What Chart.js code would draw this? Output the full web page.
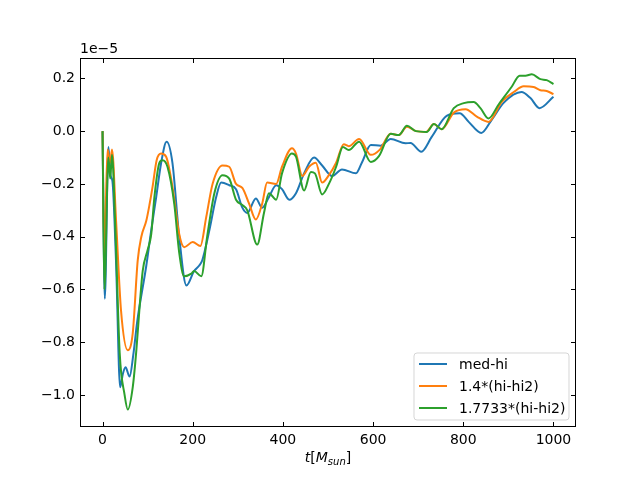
<!DOCTYPE html>
<html>
<head>
<meta charset="utf-8">
<script src="https://cdn.jsdelivr.net/npm/chart.js@4"></script>
<style>
  html, body { margin: 0; padding: 0; background: #fff; }
  canvas { display: block; }
</style>
</head>
<body>
<canvas id="chart" width="640" height="480"></canvas>
<script>
// values in units of 1e-5
const xTicks = [0, 200, 400, 600, 800, 1000];
const yTicks = [-1.0, -0.8, -0.6, -0.4, -0.2, 0.0, 0.2];

const blueT = [0, 5, 13, 18, 22, 30, 39, 45, 51, 60, 68, 77, 97, 108, 119, 130, 142, 155, 170, 186, 203, 214, 221, 237, 252, 263, 281, 296, 310, 321, 340, 354, 369, 385, 398, 414, 429, 447, 469, 487, 509, 531, 562, 575, 595, 617, 639, 672, 683, 707, 730, 763, 792, 812, 840, 862, 890, 929, 949, 969, 1000];
const blueY = [0, -0.635, -0.06, -0.17, -0.19, -0.5, -0.97, -0.92, -0.895, -0.93, -0.85, -0.72, -0.51, -0.375, -0.25, -0.12, -0.04, -0.12, -0.40, -0.585, -0.53, -0.51, -0.49, -0.375, -0.25, -0.195, -0.205, -0.22, -0.29, -0.31, -0.255, -0.29, -0.25, -0.205, -0.22, -0.26, -0.235, -0.16, -0.10, -0.13, -0.17, -0.145, -0.16, -0.12, -0.053, -0.055, -0.03, -0.046, -0.045, -0.078, -0.022, 0.058, 0.068, 0.035, -0.007, 0.04, 0.108, 0.148, 0.125, 0.087, 0.13];

const orangeT = [0, 4, 11, 17, 21, 30, 41, 56, 67, 78, 86, 97, 104, 111, 120, 130, 141, 155, 170, 181, 200, 217, 230, 244, 266, 281, 296, 310, 325, 340, 354, 365, 385, 398, 420, 429, 443, 458, 473, 487, 502, 518, 535, 546, 569, 595, 615, 639, 657, 675, 695, 717, 735, 752, 779, 805, 830, 856, 885, 912, 934, 956, 971, 985, 1000];
const orangeY = [0, -0.47, -0.07, -0.12, -0.07, -0.34, -0.68, -0.83, -0.765, -0.49, -0.40, -0.34, -0.28, -0.21, -0.11, -0.085, -0.097, -0.21, -0.39, -0.44, -0.42, -0.435, -0.325, -0.2, -0.13, -0.135, -0.2, -0.215, -0.275, -0.335, -0.275, -0.195, -0.2, -0.135, -0.065, -0.085, -0.17, -0.135, -0.12, -0.195, -0.167, -0.12, -0.05, -0.057, -0.03, -0.09, -0.07, -0.01, -0.015, 0.017, 0.0, -0.003, 0.027, 0.007, 0.07, 0.083, 0.055, 0.035, 0.11, 0.148, 0.17, 0.167, 0.155, 0.152, 0.14];

const greenT = [0, 4, 13, 17, 21, 28, 38, 49, 56, 67, 75, 82, 89, 100, 108, 115, 126, 133, 144, 159, 170, 181, 197, 203, 219, 232, 248, 266, 281, 296, 310, 321, 343, 358, 369, 385, 398, 420, 429, 447, 462, 471, 487, 502, 518, 533, 546, 569, 595, 613, 639, 657, 675, 695, 719, 735, 752, 779, 801, 823, 838, 856, 878, 907, 925, 938, 952, 971, 985, 1000];
const greenY = [0, -0.6, -0.1, -0.18, -0.09, -0.35, -0.84, -1.0, -1.055, -0.97, -0.83, -0.67, -0.53, -0.45, -0.39, -0.25, -0.12, -0.11, -0.135, -0.275, -0.46, -0.55, -0.54, -0.53, -0.55, -0.40, -0.235, -0.167, -0.18, -0.26, -0.28, -0.30, -0.43, -0.31, -0.235, -0.26, -0.16, -0.085, -0.097, -0.225, -0.155, -0.16, -0.24, -0.2, -0.135, -0.06, -0.072, -0.04, -0.117, -0.095, -0.01, -0.015, 0.02, 0.0, -0.003, 0.027, 0.007, 0.087, 0.106, 0.11, 0.087, 0.048, 0.1, 0.167, 0.21, 0.21, 0.215, 0.197, 0.193, 0.178];

const seriesNames = ["med-hi", "1.4*(hi-hi2)", "1.7733*(hi-hi2)"];
const seriesColors = ["#1f77b4", "#ff7f0e", "#2ca02c"];

const FONT = "DejaVu Sans";

function toPoints(ts, ys) {
  return ts.map((t, i) => ({ x: t, y: ys[i] }));
}

function fmtTick(v) {
  return v.toFixed(1).replace("-", "\u2212");
}

// frame, inward ticks, offset text, x label and legend (matplotlib look)
const framePlugin = {
  id: "frame",
  afterDatasetsDraw(chart) {
    const { ctx, chartArea: a, scales } = chart;
    ctx.save();
    ctx.strokeStyle = "#000";
    ctx.lineWidth = 1;
    ctx.strokeRect(a.left + 0.5, a.top + 0.5, a.right - a.left - 1, a.bottom - a.top - 1);

    const tl = 5;
    ctx.beginPath();
    xTicks.forEach((v) => {
      const px = Math.round(scales.x.getPixelForValue(v)) + 0.5;
      ctx.moveTo(px, a.bottom); ctx.lineTo(px, a.bottom - tl);
      ctx.moveTo(px, a.top); ctx.lineTo(px, a.top + tl);
    });
    yTicks.forEach((v) => {
      const py = Math.round(scales.y.getPixelForValue(v)) + 0.5;
      ctx.moveTo(a.left, py); ctx.lineTo(a.left + tl, py);
      ctx.moveTo(a.right, py); ctx.lineTo(a.right - tl, py);
    });
    ctx.stroke();

    // offset text
    ctx.fillStyle = "#000";
    ctx.font = "14px '" + FONT + "'";
    ctx.textAlign = "left";
    ctx.textBaseline = "alphabetic";
    ctx.fillText("1e\u22125", a.left, a.top - 5);

    // x label: t[M_sun]
    const base = 462;
    const parts = [
      { s: "t", f: "italic 14px '" + FONT + "'", dy: 0 },
      { s: "[", f: "14px '" + FONT + "'", dy: 0 },
      { s: "M", f: "italic 14px '" + FONT + "'", dy: 0 },
      { s: "sun", f: "italic 10px '" + FONT + "'", dy: 3 },
      { s: "]", f: "14px '" + FONT + "'", dy: 0 },
    ];
    let total = 0;
    parts.forEach((p) => { ctx.font = p.f; p.w = ctx.measureText(p.s).width; total += p.w; });
    let x = (a.left + a.right) / 2 - total / 2;
    parts.forEach((p) => {
      ctx.font = p.f;
      ctx.fillText(p.s, x, base + p.dy);
      x += p.w;
    });

    // legend
    const bx = 414, by = 353, bw = 155, bh = 67, r = 3;
    ctx.beginPath();
    ctx.moveTo(bx + r, by);
    ctx.arcTo(bx + bw, by, bx + bw, by + bh, r);
    ctx.arcTo(bx + bw, by + bh, bx, by + bh, r);
    ctx.arcTo(bx, by + bh, bx, by, r);
    ctx.arcTo(bx, by, bx + bw, by, r);
    ctx.closePath();
    ctx.fillStyle = "rgba(255,255,255,0.8)";
    ctx.fill();
    ctx.strokeStyle = "rgba(204,204,204,0.8)";
    ctx.lineWidth = 1;
    ctx.stroke();

    ctx.font = "14px '" + FONT + "'";
    ctx.textBaseline = "middle";
    seriesNames.forEach((name, i) => {
      const ly = 364 + i * 22;
      ctx.strokeStyle = seriesColors[i];
      ctx.lineWidth = 2;
      ctx.beginPath();
      ctx.moveTo(419, ly); ctx.lineTo(447, ly);
      ctx.stroke();
      ctx.fillStyle = "#000";
      ctx.fillText(name, 459, ly + 1);
    });
    ctx.restore();
  },
};

function makeDataset(i, ts, ys, order) {
  return {
    label: seriesNames[i],
    data: toPoints(ts, ys),
    borderColor: seriesColors[i],
    backgroundColor: seriesColors[i],
    borderWidth: 2,
    pointRadius: 0,
    fill: false,
    cubicInterpolationMode: "monotone",
    order: order,
  };
}

new Chart(document.getElementById("chart"), {
  type: "line",
  data: {
    datasets: [
      makeDataset(0, blueT, blueY, 2),
      makeDataset(1, orangeT, orangeY, 1),
      makeDataset(2, greenT, greenY, 0),
    ],
  },
  options: {
    responsive: false,
    animation: false,
    layout: { padding: { top: 58, right: 64, left: 0, bottom: 0 } },
    plugins: { legend: { display: false }, tooltip: { enabled: false } },
    scales: {
      x: {
        type: "linear",
        min: -50,
        max: 1050,
        afterBuildTicks: (s) => { s.ticks = xTicks.map((v) => ({ value: v })); },
        afterFit: (s) => { s.height = 53; },
        grid: { display: false, drawTicks: false },
        border: { display: false },
        ticks: {
          color: "#000",
          font: { family: FONT, size: 14 },
          padding: 5,
          maxRotation: 0,
          autoSkip: false,
          callback: (v) => String(v),
        },
      },
      y: {
        type: "linear",
        min: -1.121,
        max: 0.277,
        afterBuildTicks: (s) => { s.ticks = yTicks.map((v) => ({ value: v })); },
        afterFit: (s) => { s.width = 80; },
        grid: { display: false, drawTicks: false },
        border: { display: false },
        ticks: {
          color: "#000",
          font: { family: FONT, size: 14 },
          padding: 5,
          autoSkip: false,
          callback: (v) => fmtTick(v),
        },
      },
    },
  },
  plugins: [framePlugin],
});
</script>
</body>
</html>
